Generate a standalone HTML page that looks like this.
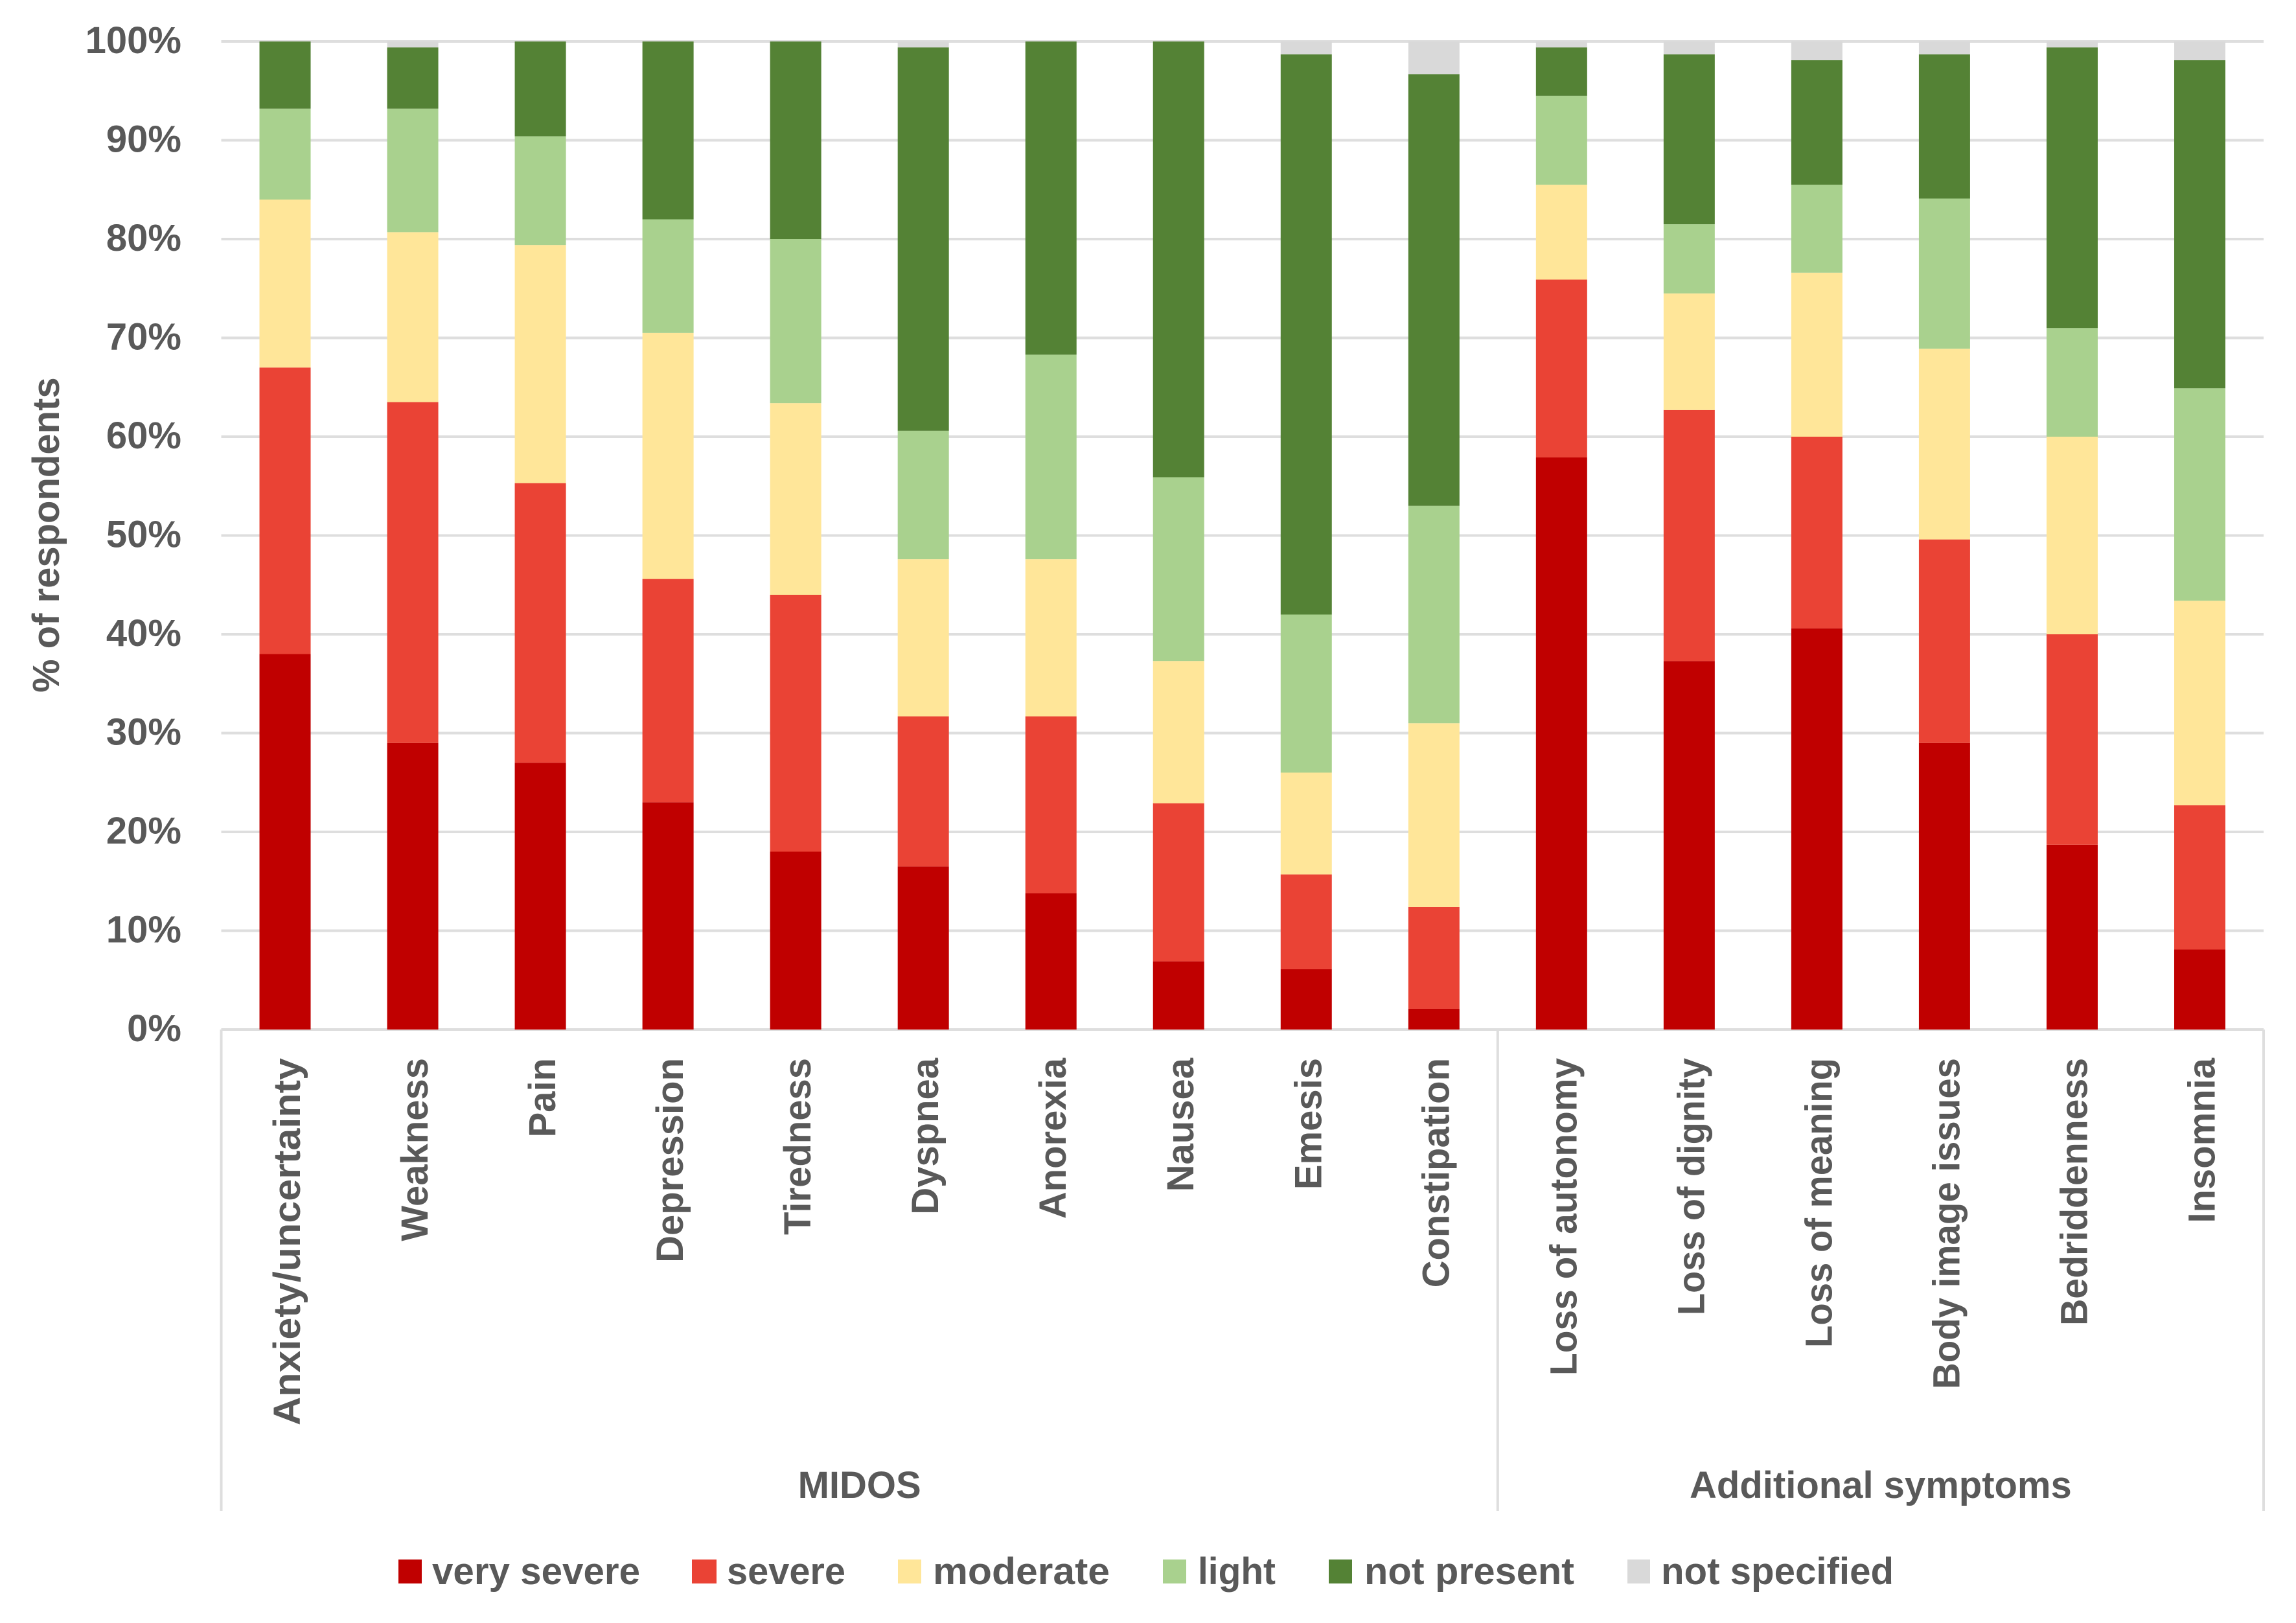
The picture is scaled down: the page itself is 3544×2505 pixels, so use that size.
<!DOCTYPE html>
<html lang="en">
<head>
<meta charset="utf-8">
<title>Symptom severity among respondents</title>
<style>
  html, body { margin: 0; padding: 0; background: #ffffff; }
  body { width: 3544px; height: 2505px; overflow: hidden; }
  svg { display: block; }
  text { font-family: "Liberation Sans", sans-serif; font-weight: 700; fill: #595959; }
</style>
</head>
<body>
<svg id="chart" xmlns="http://www.w3.org/2000/svg" width="3544" height="2505" viewBox="0 0 3544 2505">
  <rect x="0" y="0" width="3544" height="2505" fill="#ffffff"/>
  <g id="grid"></g>
  <g id="bars"></g>
  <g id="yticks"></g>
  <g id="xaxis"></g>
  <text transform="translate(91 1069) rotate(-90)" font-size="58">% of respondents</text>
  <g>
    <g>
      <rect x="615" y="2407" width="36" height="37" fill="#C00000"/>
      <text x="667" y="2445" font-size="58" textLength="321" lengthAdjust="spacingAndGlyphs">very severe</text>
    </g>
    <g>
      <rect x="1068" y="2407" width="38" height="37" fill="#EA4335"/>
      <text x="1122" y="2445" font-size="58" textLength="183" lengthAdjust="spacingAndGlyphs">severe</text>
    </g>
    <g>
      <rect x="1386" y="2407" width="36" height="37" fill="#FFE699"/>
      <text x="1440" y="2445" font-size="58" textLength="273" lengthAdjust="spacingAndGlyphs">moderate</text>
    </g>
    <g>
      <rect x="1795" y="2407" width="36" height="37" fill="#A9D18E"/>
      <text x="1849" y="2445" font-size="58" textLength="120" lengthAdjust="spacingAndGlyphs">light</text>
    </g>
    <g>
      <rect x="2051" y="2407" width="36" height="37" fill="#548235"/>
      <text x="2106" y="2445" font-size="58" textLength="324" lengthAdjust="spacingAndGlyphs">not present</text>
    </g>
    <g>
      <rect x="2512" y="2407" width="35" height="37" fill="#D9D9D9"/>
      <text x="2564" y="2445" font-size="58" textLength="359" lengthAdjust="spacingAndGlyphs">not specified</text>
    </g>
  </g>
</svg>
<script>
const categories = ["Anxiety/uncertainty", "Weakness", "Pain", "Depression", "Tiredness", "Dyspnea", "Anorexia", "Nausea", "Emesis", "Constipation", "Loss of autonomy", "Loss of dignity", "Loss of meaning", "Body image issues", "Bedriddenness", "Insomnia"];
const seriesNames = ["very severe", "severe", "moderate", "light", "not present", "not specified"];
const verySevere = [38, 29, 27, 23, 18, 16.5, 13.8, 6.9, 6.1, 2.1, 57.9, 37.3, 40.6, 29, 18.7, 8.1];
const severe = [29, 34.5, 28.3, 22.6, 26, 15.2, 17.9, 16, 9.6, 10.3, 18, 25.4, 19.4, 20.6, 21.3, 14.6];
const moderate = [17, 17.2, 24.1, 24.9, 19.4, 15.9, 15.9, 14.4, 10.3, 18.6, 9.6, 11.8, 16.6, 19.3, 20, 20.7];
const light = [9.2, 12.5, 11, 11.5, 16.6, 13, 20.7, 18.6, 16, 22, 9, 7, 8.9, 15.2, 11, 21.5];
const notPresent = [6.8, 6.2, 9.6, 18, 20, 38.8, 31.7, 44.1, 56.7, 43.7, 4.9, 17.2, 12.6, 14.6, 28.4, 33.2];
const notSpecified = [0, 0.6, 0, 0, 0, 0.6, 0, 0, 1.3, 3.3, 0.6, 1.3, 1.9, 1.3, 0.6, 1.9];
const tickValues = [0, 10, 20, 30, 40, 50, 60, 70, 80, 90, 100];
const groupNames = ["MIDOS", "Additional symptoms"];
const groupSizes = [10, 6];

const NS = "http://www.w3.org/2000/svg";
const plotLeft = 341.5, plotRight = 3494, plotTop = 64, plotBottom = 1589, axisBottom = 2332;
const seriesColors = ["#C00000", "#EA4335", "#FFE699", "#A9D18E", "#548235", "#D9D9D9"];
const allSeries = [verySevere, severe, moderate, light, notPresent, notSpecified];
const labelFit = { "Anxiety/uncertainty": 567, "Loss of autonomy": 490, "Loss of dignity": 397, "Loss of meaning": 447, "Body image issues": 511, "Bedriddenness": 413 };
const band = (plotRight - plotLeft) / categories.length;
const barWidth = 79;
function yScale(v) { return plotBottom - (plotBottom - plotTop) * v / 100; }
function xCenter(i) { return plotLeft + band * (i + 0.5); }
function slug(s) { return s.toLowerCase().replace(/[^a-z0-9]+/g, "-"); }
function make(tag, attrs, parent) {
  const el = document.createElementNS(NS, tag);
  for (const k in attrs) el.setAttribute(k, attrs[k]);
  parent.appendChild(el);
  return el;
}

const gridGroup = document.getElementById("grid");
const tickGroup = document.getElementById("yticks");
tickValues.forEach(function (t) {
  const line = make("line", { x1: plotLeft, x2: plotRight, y1: yScale(t), y2: yScale(t), stroke: "#DEDEDE", "stroke-width": 4 }, gridGroup);
  
  
  const label = make("text", { x: 280, y: yScale(t) + 18, "text-anchor": "end", "font-size": 58 }, tickGroup);
  label.textContent = t + "%";
  
  
});

const barGroup = document.getElementById("bars");
categories.forEach(function (cat, i) {
  let cum = 0;
  allSeries.forEach(function (series, s) {
    const v = series[i];
    if (v > 0) {
      const top = yScale(cum + v), bottom = yScale(cum);
      const seg = make("rect", { x: xCenter(i) - barWidth / 2, y: top, width: barWidth, height: bottom - top, fill: seriesColors[s] }, barGroup);
      
      
    }
    cum += v;
  });
});

const xGroup = document.getElementById("xaxis");
categories.forEach(function (cat, i) {
  const label = make("text", { transform: "translate(" + (xCenter(i) + 23) + " 1633) rotate(-90)", "text-anchor": "end", "font-size": 58 }, xGroup);
  label.textContent = cat;
  if (labelFit[cat]) {
    label.setAttribute("textLength", labelFit[cat]);
    label.setAttribute("lengthAdjust", "spacingAndGlyphs");
  }
  
  
});

let start = 0;
const leftEdge = make("line", { x1: plotLeft, x2: plotLeft, y1: plotBottom, y2: axisBottom, stroke: "#DEDEDE", "stroke-width": 4 }, xGroup);


groupNames.forEach(function (name, g) {
  const end = start + groupSizes[g];
  const x0 = plotLeft + band * start, x1 = plotLeft + band * end;
  const divider = make("line", { x1: x1, x2: x1, y1: plotBottom, y2: axisBottom, stroke: "#DEDEDE", "stroke-width": 4 }, xGroup);
  
  
  const label = make("text", { x: (x0 + x1) / 2, y: 2312, "text-anchor": "middle", "font-size": 58 }, xGroup);
  label.textContent = name;
  
  
  start = end;
});
</script>
</body>
</html>
